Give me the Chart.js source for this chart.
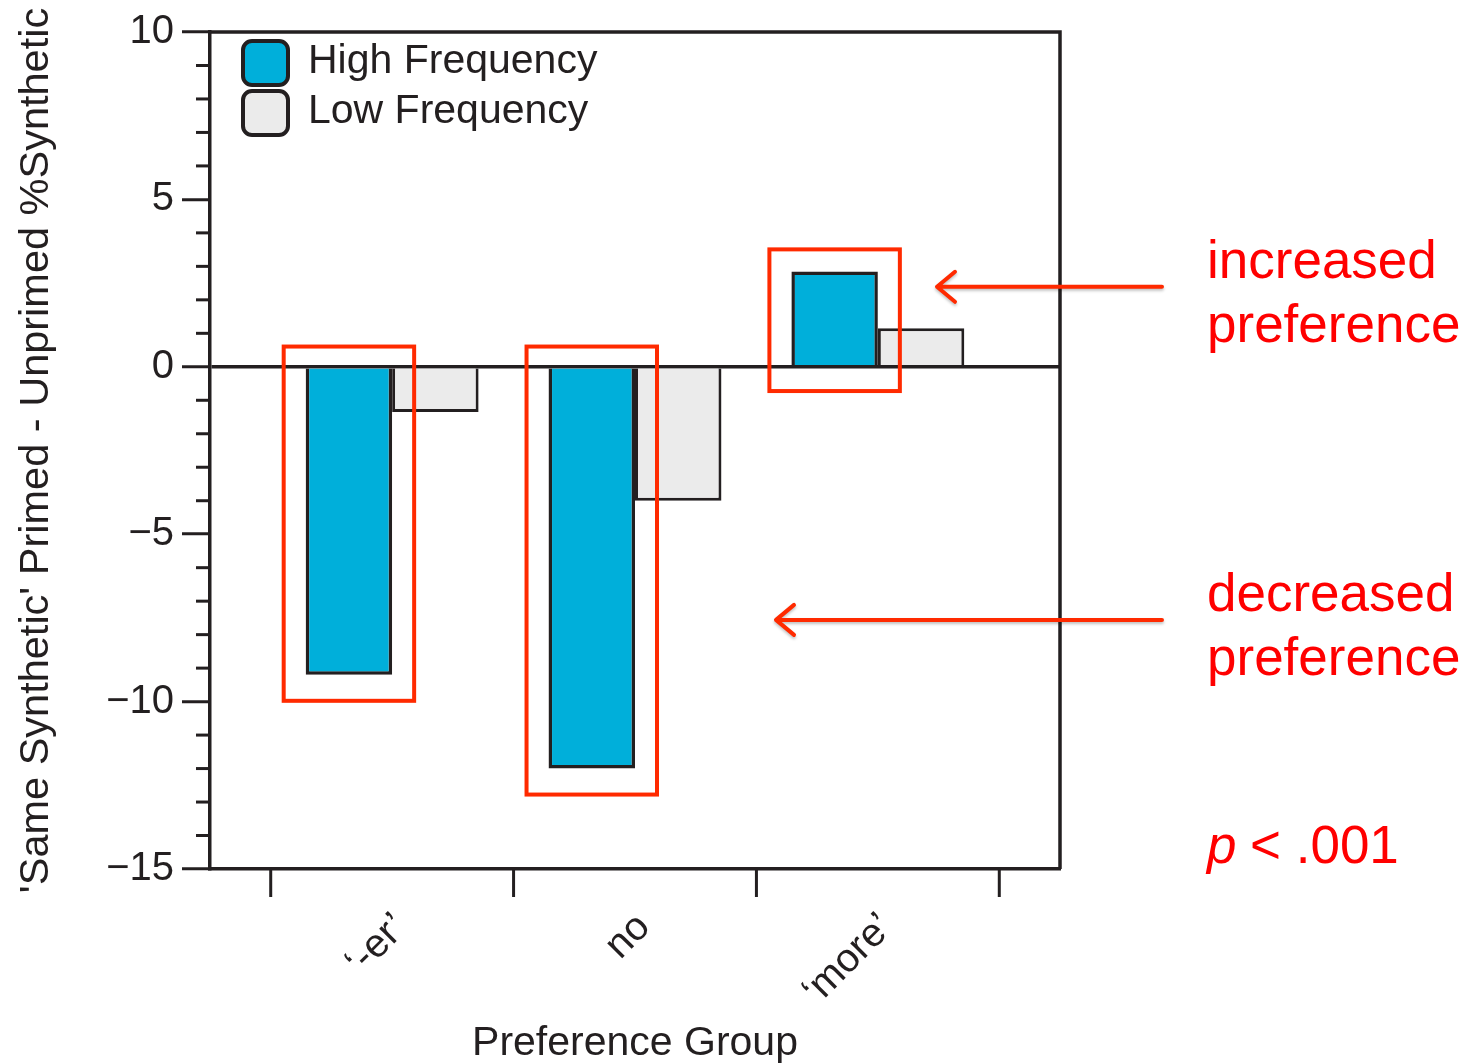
<!DOCTYPE html>
<html>
<head>
<meta charset="utf-8">
<script src="https://cdn.jsdelivr.net/npm/chart.js@4.4.1/dist/chart.umd.min.js"></script>
<style>
  body { margin: 0; background: #fff; }
</style>
</head>
<body>
<canvas id="grafico" width="1470" height="1064"></canvas>
<script>
// dados
const grupos = ["\u2018-er\u2019", "no", "\u2018more\u2019"];
const posicoes = [1, 2, 3];
const altaFrequencia = [-9.2, -12.0, 2.85];
const baixaFrequencia = [-1.35, -4.0, 1.15];
const limitesX = [0.5, 1.5, 2.5, 3.5];
const ticksMaiores = [-15, -10, -5, 0, 5, 10];

const cor = "#231f20";
const vermelho = "#ff2a00";
const fonte = "'Liberation Sans', Arial, Helvetica, sans-serif";

const extras = {
  id: "extras",
  afterDraw(chart) {
    const ctx = chart.ctx;
    const area = chart.chartArea;
    const x = chart.scales.x;
    const y = chart.scales.y;
    ctx.save();

    // moldura (topo e direita)
    ctx.strokeStyle = cor;
    ctx.lineWidth = 3.5;
    ctx.beginPath();
    ctx.moveTo(area.left, area.top);
    ctx.lineTo(area.right, area.top);
    ctx.lineTo(area.right, area.bottom);
    ctx.stroke();

    // ticks menores do eixo y
    ctx.lineWidth = 3;
    for (let v = -15; v <= 10; v++) {
      if (ticksMaiores.includes(v)) continue;
      const py = y.getPixelForValue(v);
      ctx.beginPath();
      ctx.moveTo(area.left - 14, py);
      ctx.lineTo(area.left, py);
      ctx.stroke();
    }

    // ticks entre grupos no eixo x
    limitesX.forEach(v => {
      const px = x.getPixelForValue(v);
      ctx.beginPath();
      ctx.moveTo(px, area.bottom);
      ctx.lineTo(px, area.bottom + 28);
      ctx.stroke();
    });

    // legenda dentro do grafico
    ctx.font = "41px " + fonte;
    ctx.textBaseline = "middle";
    chart.data.datasets.forEach((ds, i) => {
      const lx = area.left + 33;
      const ly = area.top + 9 + i * 50;
      ctx.beginPath();
      ctx.roundRect(lx, ly, 45, 44, 9);
      ctx.fillStyle = ds.backgroundColor;
      ctx.fill();
      ctx.lineWidth = 4;
      ctx.strokeStyle = cor;
      ctx.stroke();
      ctx.fillStyle = cor;
      ctx.fillText(ds.label, lx + 65, ly + 21);
    });

    // caixas vermelhas em volta das barras de alta frequencia
    ctx.strokeStyle = vermelho;
    ctx.lineWidth = 4;
    chart.getDatasetMeta(0).data.forEach(bar => {
      const l = bar.x - bar.width / 2 - 22;
      const r = bar.x + bar.width / 2 + 22;
      const t = Math.min(bar.y, bar.base) - 22;
      const b = Math.max(bar.y, bar.base) + 26;
      ctx.strokeRect(l, t, r - l, b - t);
    });

    // setas
    const seta = (x1, x2, py) => {
      ctx.beginPath();
      ctx.moveTo(x1, py);
      ctx.lineTo(x2, py);
      ctx.moveTo(x2 + 18, py - 15);
      ctx.lineTo(x2, py);
      ctx.lineTo(x2 + 18, py + 15);
      ctx.stroke();
    };
    ctx.lineCap = "round";
    ctx.lineJoin = "round";
    ctx.shadowColor = "rgba(0,0,0,0.25)";
    ctx.shadowBlur = 3;
    ctx.shadowOffsetY = 2;
    seta(1162, 937, y.getPixelForValue(2.39));
    seta(1162, 776, y.getPixelForValue(-7.56));
    ctx.shadowColor = "transparent";

    // textos
    ctx.fillStyle = "#ff0000";
    ctx.textBaseline = "alphabetic";
    ctx.font = "53px " + fonte;
    ctx.fillText("increased", 1207, 278);
    ctx.fillText("preference", 1207, 342);
    ctx.fillText("decreased", 1207, 611);
    ctx.fillText("preference", 1207, 675);
    ctx.font = "italic 53px " + fonte;
    ctx.fillText("p", 1207, 863);
    ctx.font = "53px " + fonte;
    ctx.fillText("< .001", 1250, 863);

    ctx.restore();
  }
};

new Chart(document.getElementById("grafico"), {
  type: "bar",
  data: {
    datasets: [
      {
        label: "High Frequency",
        data: posicoes.map((p, i) => ({ x: p, y: altaFrequencia[i] })),
        backgroundColor: "#00afda",
        borderColor: cor,
        borderWidth: 3.5
      },
      {
        label: "Low Frequency",
        data: posicoes.map((p, i) => ({ x: p, y: baixaFrequencia[i] })),
        backgroundColor: "#ebebeb",
        borderColor: cor,
        borderWidth: 3
      }
    ]
  },
  options: {
    responsive: false,
    animation: false,
    layout: { padding: { top: 32, right: 410, left: 0, bottom: 0 } },
    plugins: { legend: { display: false }, tooltip: { enabled: false } },
    datasets: { bar: { categoryPercentage: 0.712, barPercentage: 1 } },
    scales: {
      x: {
        type: "linear",
        min: 0.25,
        max: 3.75,
        offset: false,
        afterBuildTicks: s => { s.ticks = posicoes.map(v => ({ value: v })); },
        afterFit: s => { s.height = 195; },
        grid: { offset: false, drawOnChartArea: false, drawTicks: true, tickLength: 28, tickColor: "rgba(0,0,0,0)" },
        border: { color: cor, width: 3.5 },
        ticks: {
          callback: v => grupos[v - 1],
          minRotation: 45,
          maxRotation: 45,
          padding: 7,
          labelOffset: 9,
          color: cor,
          font: { family: fonte, size: 40 }
        },
        title: {
          display: true,
          text: "Preference Group",
          color: cor,
          font: { family: fonte, size: 41 },
          padding: { top: 0, bottom: -4 }
        }
      },
      y: {
        min: -15,
        max: 10,
        afterFit: s => { s.width = 210; },
        ticks: {
          stepSize: 5,
          padding: 8,
          color: cor,
          font: { family: fonte, size: 40 },
          callback: v => String(v).replace("-", "\u2212")
        },
        grid: {
          color: c => (c.tick && c.tick.value === 0 ? cor : "rgba(0,0,0,0)"),
          lineWidth: 3.5,
          tickLength: 28,
          tickColor: cor,
          tickWidth: 3
        },
        border: { color: cor, width: 3.5 },
        title: {
          display: true,
          text: "'Same Synthetic' Primed - Unprimed %Synthetic",
          color: cor,
          font: { family: fonte, size: 41.5 },
          padding: { top: 12, bottom: 0 }
        }
      }
    }
  },
  plugins: [extras]
});
</script>
</body>
</html>
